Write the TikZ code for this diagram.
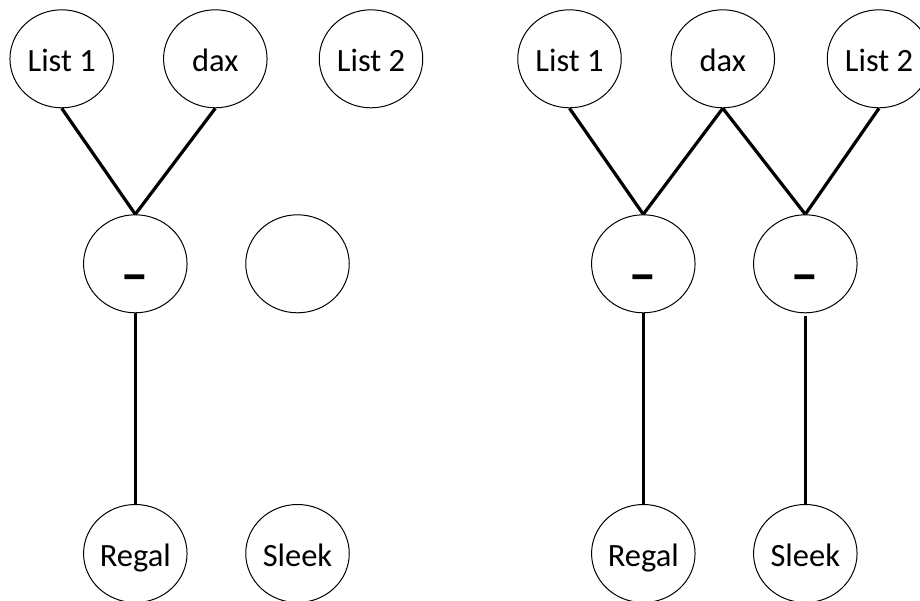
\documentclass[tikz,border=0pt]{standalone}
\usepackage{fontspec}
\usepackage{graphicx}
\setmainfont{Carlito}
\usetikzlibrary{shapes.geometric}

\tikzset{
  bubble/.style={ellipse, draw=black, line width=1pt, inner sep=0pt,
    minimum width=103.5pt, minimum height=98pt,
    font=\fontsize{32.5}{38}\selectfont, text height=31pt, text depth=5pt},
  minusop/.style={bubble, font=\fontsize{31}{37}\selectfont\bfseries,
    text height=53pt, text depth=0pt},
  link/.style={line width=3.2pt, black}
}
\newcommand{\opsign}{\scalebox{2.6}[1.5]{-}}

\begin{document}
\begin{tikzpicture}[x=1pt, y=-1pt]
  \clip (0,0) rectangle (920,600);

  % left tree: only List 1 and dax combined
  \node[bubble] (la) at (61.7,58.8) {List 1};
  \node[bubble] (lb) at (215.3,58.8) {dax};
  \node[bubble] (lc) at (371,58.8) {List 2};
  \node[minusop] (lm) at (135.3,263.8) {\opsign};
  \node[bubble] (le) at (297.5,263.8) {};
  \node[bubble] (lr) at (135.3,553.5) {Regal};
  \node[bubble] (ls) at (297.5,553.5) {Sleek};

  \draw[link] (la.south) -- (lm.north);
  \draw[link] (lb.south) -- (lm.north);
  \draw[link] (lm.south) -- (lr.north);

  % right tree: dax shared by both differences
  \node[bubble] (ra) at (569.5,58.8) {List 1};
  \node[bubble] (rb) at (722.8,58.8) {dax};
  \node[bubble] (rc) at (879,58.8) {List 2};
  \node[minusop] (rm) at (643.3,263.8) {\opsign};
  \node[minusop] (rn) at (805.3,263.8) {\opsign};
  \node[bubble] (rr) at (643.3,553.5) {Regal};
  \node[bubble] (rs) at (805.3,553.5) {Sleek};

  \draw[link] (ra.south) -- (rm.north);
  \draw[link] (rb.south) -- (rm.north);
  \draw[link] (rb.south) -- (rn.north);
  \draw[link] (rc.south) -- (rn.north);
  \draw[link] (rm.south) -- (rr.north);
  \draw[link, shorten <=3pt] (rn.south) -- (rs.north);
\end{tikzpicture}
\end{document}
